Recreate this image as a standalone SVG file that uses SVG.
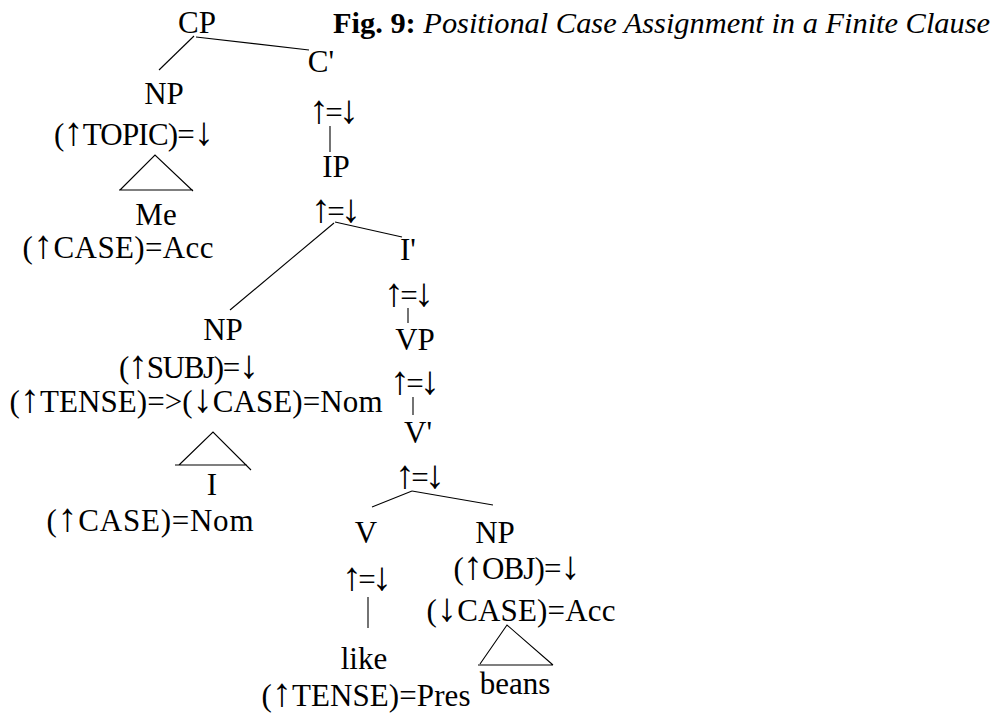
<svg xmlns="http://www.w3.org/2000/svg" width="996" height="714" viewBox="0 0 996 714">
  <style>
    text { font-family: "Liberation Serif", "Times New Roman", serif; font-size: 31px; fill: #000; }
    .m { text-anchor: middle; }
    .title { font-size: 30.4px; }
    .b { font-weight: bold; }
    .i { font-style: italic; }
    .a { font-size: 40px; }
    .edge { stroke: #000; stroke-width: 1.1; fill: none; }
  </style>
  <rect width="996" height="714" fill="#fff"/>

  <!-- title -->
  <text class="title" x="333" y="33"><tspan class="b">Fig. 9:</tspan><tspan class="i"> Positional Case Assignment in a Finite Clause</tspan></text>

  <!-- connectors -->
  <g id="connectors" class="edge">
    <line x1="194" y1="36" x2="159" y2="70"/>
    <line x1="196" y1="37" x2="309" y2="50"/>
    <line x1="330" y1="126" x2="330" y2="152"/>
    <line x1="335" y1="222" x2="402" y2="237"/>
    <line x1="334" y1="223" x2="230" y2="310"/>
    <line x1="408" y1="308" x2="408" y2="323"/>
    <line x1="413" y1="397" x2="413" y2="415"/>
    <line x1="412" y1="491" x2="372" y2="507"/>
    <line x1="412" y1="491" x2="493" y2="505"/>
    <line x1="368" y1="597" x2="368" y2="628"/>
    <!-- roof triangles -->
    <path d="M119 190 H193 M120 190 L155 155 L193 191"/>
    <path d="M175 465 H247 M179 465 L213 432 L251 470"/>
    <path d="M478 665 H553 M480 664 L507 625 L553 665"/>
  </g>

  <g id="cp"><text class="m" x="197" y="33">CP</text></g>
  <g id="np-topic">
    <text class="m" x="164" y="104">NP</text>
    <text class="m" x="134" y="145" textLength="160" lengthAdjust="spacing">(<tspan class="a">↑</tspan>TOPIC)=<tspan class="a">↓</tspan></text>
  </g>
  <g id="me">
    <text class="m" x="156" y="225">Me</text>
    <text class="m" x="118" y="258" textLength="191" lengthAdjust="spacing">(<tspan class="a">↑</tspan>CASE)=Acc</text>
  </g>
  <g id="cbar">
    <text class="m" x="321" y="72">C'</text>
    <text class="m" x="334" y="123" textLength="50" lengthAdjust="spacing"><tspan class="a">↑</tspan>=<tspan class="a">↓</tspan></text>
  </g>
  <g id="ip">
    <text class="m" x="336" y="222" textLength="50" lengthAdjust="spacing"><tspan class="a">↑</tspan>=<tspan class="a">↓</tspan></text>
    <text class="m" x="336" y="177">IP</text>
  </g>
  <g id="np-subj">
    <text class="m" x="223" y="340">NP</text>
    <text class="m" x="189" y="378" textLength="140" lengthAdjust="spacing">(<tspan class="a">↑</tspan>SUBJ)=<tspan class="a">↓</tspan></text>
    <text class="m" x="196" y="412" textLength="373" lengthAdjust="spacing">(<tspan class="a">↑</tspan>TENSE)=&gt;(<tspan class="a">↓</tspan>CASE)=Nom</text>
  </g>
  <g id="i">
    <text class="m" x="212" y="495">I</text>
    <text class="m" x="150" y="531" textLength="207" lengthAdjust="spacing">(<tspan class="a">↑</tspan>CASE)=Nom</text>
  </g>
  <g id="ibar">
    <text class="m" x="408" y="260">I'</text>
    <text class="m" x="409" y="306" textLength="50" lengthAdjust="spacing"><tspan class="a">↑</tspan>=<tspan class="a">↓</tspan></text>
  </g>
  <g id="vp">
    <text class="m" x="415" y="350">VP</text>
    <text class="m" x="415" y="394" textLength="50" lengthAdjust="spacing"><tspan class="a">↑</tspan>=<tspan class="a">↓</tspan></text>
  </g>
  <g id="vbar">
    <text class="m" x="418" y="443">V'</text>
    <text class="m" x="420" y="488" textLength="50" lengthAdjust="spacing"><tspan class="a">↑</tspan>=<tspan class="a">↓</tspan></text>
  </g>
  <g id="v">
    <text class="m" x="366" y="543">V</text>
    <text class="m" x="367" y="590" textLength="50" lengthAdjust="spacing"><tspan class="a">↑</tspan>=<tspan class="a">↓</tspan></text>
  </g>
  <g id="np-obj">
    <text class="m" x="495" y="543">NP</text>
    <text class="m" x="517" y="579" textLength="127" lengthAdjust="spacing">(<tspan class="a">↑</tspan>OBJ)=<tspan class="a">↓</tspan></text>
    <text class="m" x="521" y="621" textLength="189" lengthAdjust="spacing">(<tspan class="a">↓</tspan>CASE)=Acc</text>
  </g>
  <g id="like">
    <text class="m" x="364" y="669">like</text>
    <text class="m" x="366" y="706" textLength="209" lengthAdjust="spacing">(<tspan class="a">↑</tspan>TENSE)=Pres</text>
  </g>
  <g id="beans"><text class="m" x="515" y="694">beans</text></g>
</svg>
